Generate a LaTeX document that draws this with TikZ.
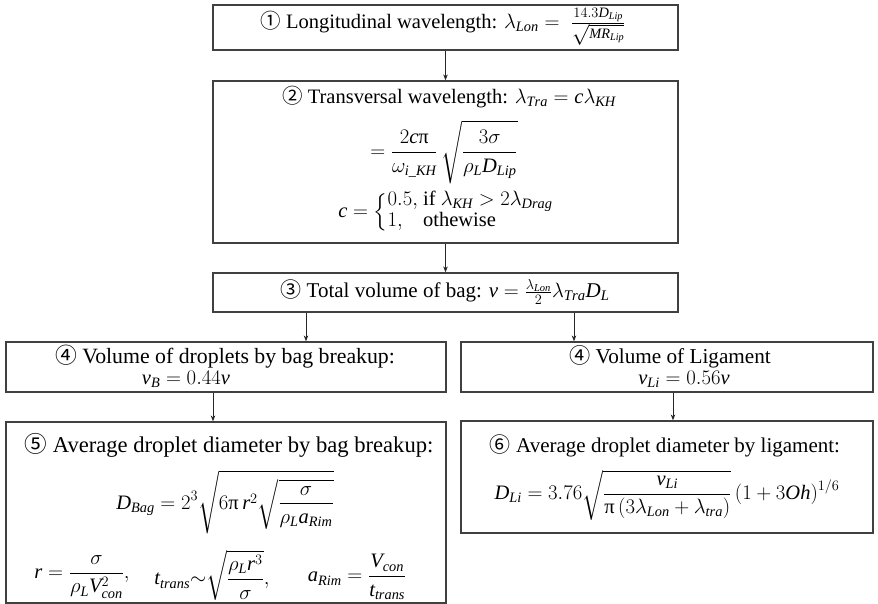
\documentclass[tikz,border=0pt]{standalone}
\usepackage{amsmath}
\usepackage{fontspec}
\setmainfont{Liberation Serif}
\newfontfamily\circfont{Noto Sans CJK SC}
\usetikzlibrary{arrows.meta}
\DeclareSymbolFont{tletters}{TU}{\rmdefault}{m}{it}
\makeatletter
\def\mydecl#1{\DeclareMathSymbol{#1}{\mathalpha}{tletters}{`#1}}
\@tfor\next:=abcdefghijklmnopqrstuvwxyzABCDEFGHIJKLMNOPQRSTUVWXYZ\do{\expandafter\mydecl\next}
\makeatother
\newcommand{\cnum}[1]{{\circfont #1}}
\newcommand{\mypi}{\text{π}}
\begin{document}
\begin{tikzpicture}[x=1pt,y=-1pt,
  every node/.style={font=\fontsize{20.5}{23}\selectfont, inner sep=0pt},
  big/.style={font=\fontsize{#1}{#1}\selectfont},
  box/.style={draw=black!75, line width=1.2pt, rectangle, inner sep=0pt},
  arr/.style={draw=black!85, line width=1pt, -{Stealth[length=6pt,width=4.5pt]}}
]
\useasboundingbox (0,0) rectangle (878,604);
% boxes
\node[box, minimum width=465pt, minimum height=45pt]  (b1)  at (445.5,27.5) {};
\node[box, minimum width=465pt, minimum height=162pt] (b2)  at (445.5,162) {};
\node[box, minimum width=465pt, minimum height=39pt]  (b3)  at (445.5,292.5) {};
\node[box, minimum width=440pt, minimum height=50pt]  (b4l) at (226,367) {};
\node[box, minimum width=412pt, minimum height=50pt]  (b4r) at (667,367) {};
\node[box, minimum width=440pt, minimum height=181pt] (b5)  at (226,512.5) {};
\node[box, minimum width=412pt, minimum height=112pt] (b6)  at (667,477) {};
% arrows
\draw[arr] (b1.south) -- (b2.north);
\draw[arr] (b2.south) -- (b3.north);
\draw[arr] ([xshift=-139.5pt]b3.south) -- ([xshift=-139.5pt]b3.south |- b4l.north);
\draw[arr] ([xshift=128.5pt]b3.south) -- ([xshift=128.5pt]b3.south |- b4r.north);
\draw[arr] ([xshift=-13pt]b4l.south) -- ([xshift=-13pt]b4l.south |- b5.north);
\draw[arr] ([xshift=6pt]b4r.south) -- ([xshift=6pt]b4r.south |- b6.north);
% texts
\node (t1) at (443,27) {\cnum{①} Longitudinal wavelength: $\lambda_{Lon} = \;\tfrac{14.3D_{Lip}}{\sqrt{MR_{Lip}}}$};
\node (t2a) at (449,97) {\cnum{②} Transversal wavelength: $\lambda_{Tra} = c\lambda_{KH}$};
\node (t2b) at (444,152) {$\displaystyle =\frac{2c\mypi}{\omega_{i\_KH}}\,\sqrt{\frac{3\sigma}{\rho_L D_{Lip}}}$};
\node (t2c) at (446,212) {$c=\left\{\renewcommand{\arraystretch}{0.9}\begin{array}{@{}l@{\ }l@{}}0.5, & \text{if } \lambda_{KH} > 2\lambda_{Drag}\\ 1, & \text{othewise}\end{array}\right.$};
\node[big=21] (t3) at (445,292) {\cnum{③} Total volume of bag: $v = \tfrac{\lambda_{Lon}}{2}\lambda_{Tra}D_L$};
\node[big=21.8] (t4a) at (225,357) {\cnum{④} Volume of droplets by bag breakup:};
\node (t4b) at (186,379) {$v_B = 0.44v$};
\node[big=21.2] (t4c) at (670,357) {\cnum{④} Volume of Ligament};
\node (t4d) at (684,379) {$v_{Li} = 0.56v$};
\node[big=22.6] (t5a) at (229,445) {\cnum{⑤} Average droplet diameter by bag breakup:};
\node (t5b) at (225,502) {$\displaystyle D_{Bag} = 2^3\sqrt{6\mypi\, r^2\sqrt{\frac{\sigma}{\rho_L a_{Rim}}}}$};
\node (t5c) at (82,577) {$\displaystyle r=\frac{\sigma}{\rho_L V_{con}^2},$};
\node (t5d) at (212,575) {$\displaystyle t_{trans}{\sim}\sqrt{\frac{\rho_L r^3}{\sigma}},$};
\node (t5e) at (357,577) {$\displaystyle a_{Rim}=\frac{V_{con}}{t_{trans}}$};
\node[big=21] (t6a) at (665,446) {\cnum{⑥} Average droplet diameter by ligament:};
\node (t6b) at (667,495) {$\displaystyle D_{Li} = 3.76\sqrt{\frac{v_{Li}}{\mypi\,(3\lambda_{Lon}+\lambda_{tra})}}\,(1+3Oh)^{1/6}$};
\end{tikzpicture}
\end{document}
